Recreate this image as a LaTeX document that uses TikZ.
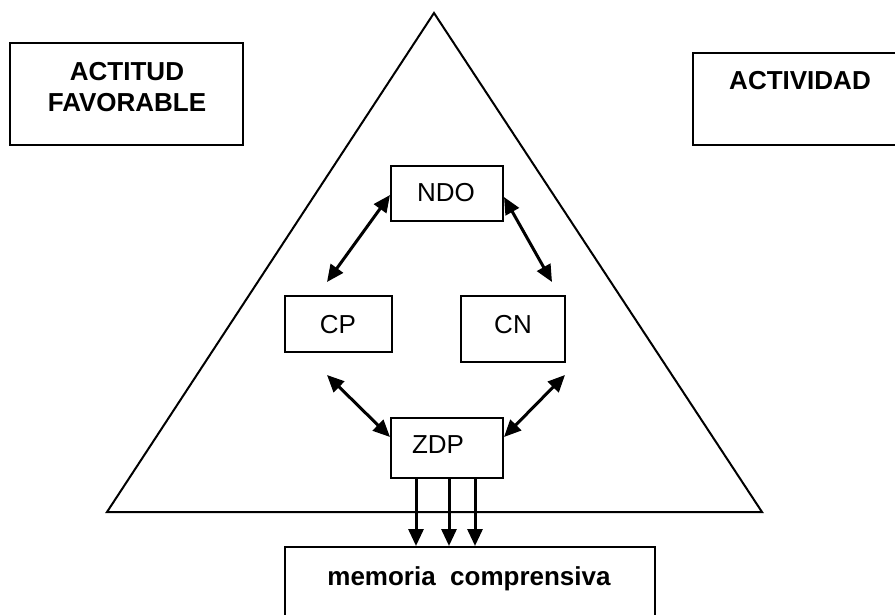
\documentclass[tikz,border=0pt]{standalone}
\usepackage{fontspec}
\setmainfont{Liberation Sans}
\usetikzlibrary{arrows.meta}
\begin{document}
\begin{tikzpicture}[x=1pt,y=-1pt,
  box/.style={draw, line width=2pt, inner sep=0pt},
  lbl/.style={font=\fontsize{26}{31}\selectfont, inner sep=0pt, anchor=base},
  blbl/.style={font=\fontsize{26}{31}\selectfont\bfseries, inner sep=0pt, align=center},
  link/.style={line width=3pt, {Triangle[length=17pt,width=15pt]}-{Triangle[length=17pt,width=15pt]}},
  downarr/.style={line width=3pt, -{Triangle[length=17pt,width=15pt]}}]
\useasboundingbox (0,0) rectangle (895,615);
\clip (0,0) rectangle (895,615);
% triangle
\coordinate (apex) at (434,13);
\coordinate (bl) at (107,512);
\coordinate (br) at (762,512);
\draw[line width=2pt, line join=miter] (apex) -- (bl) -- (br) -- cycle;
% outer boxes
\node[box, minimum width=233pt, minimum height=102pt] (act) at (126.5,94) {};
\node[blbl, anchor=center] (acttxt) at (127,87) {ACTITUD\\FAVORABLE};
\node[box, minimum width=227pt, minimum height=92pt] (activ) at (806.5,99) {};
\node[lbl, font=\fontsize{26}{31}\selectfont\bfseries] (activtxt) at (800,90) {ACTIVIDAD};
% inner boxes
\node[box, minimum width=112pt, minimum height=55pt] (ndo) at (447,193.5) {};
\node[lbl] at (446,202) {NDO};
\node[box, minimum width=107pt, minimum height=56pt] (cp) at (338.5,324) {};
\node[lbl] at (338,333) {CP};
\node[box, minimum width=104pt, minimum height=66pt] (cn) at (513,329) {};
\node[lbl] at (513,333) {CN};
\node[box, minimum width=112pt, minimum height=60pt] (zdp) at (447,448) {};
\node[lbl] at (438,453) {ZDP};
\node[box, minimum width=370pt, minimum height=83pt] (mem) at (470,588.5) {};
\node[lbl, font=\fontsize{26}{31}\selectfont\bfseries] at (469,585) {memoria\ \ comprensiva};
% free ends
\coordinate (cpUp) at (327,282);
\coordinate (cnUp) at (552,282);
\coordinate (cpDown) at (327,375);
\coordinate (cnDown) at (565,375);
% connectors
\draw[link] ([yshift=-1.5pt]ndo.west) -- (cpUp);
\draw[link] ([yshift=-3.5pt]ndo.east) -- (cnUp);
\draw[link] (cpDown) -- ([yshift=11pt]zdp.west);
\draw[link] (cnDown) -- ([yshift=11pt]zdp.east);
\foreach \dx in {-31,2,28}{
  \draw[downarr] ([xshift=\dx pt]zdp.south) -- ([xshift=\dx pt]zdp.south |- mem.north);
}
\end{tikzpicture}
\end{document}
